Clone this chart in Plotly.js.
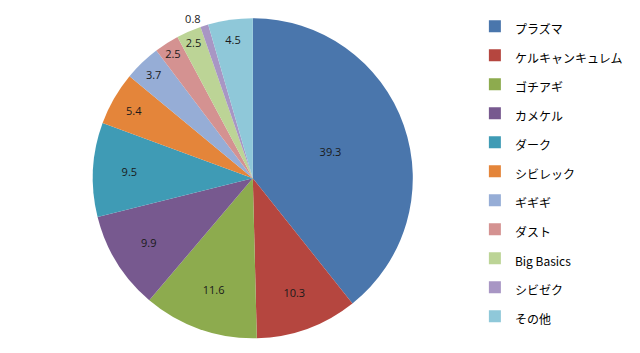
<!DOCTYPE html>
<html><head><meta charset="utf-8">
<script src="https://cdn.plot.ly/plotly-3.0.1.min.js"></script>
<style>html,body{margin:0;padding:0;background:#fff}#chart{width:640px;height:353px}</style>
</head><body><div id="chart"></div>
<script>
const categories = ["プラズマ","ケルキャンキュレム","ゴチアギ","カメケル","ダーク","シビレック","ギギギ","ダスト","Big Basics","シビゼク","その他"];
const values = [39.3, 10.3, 11.6, 9.9, 9.5, 5.4, 3.7, 2.5, 2.5, 0.8, 4.5];
const valueLabels = ["39.3","10.3","11.6","9.9","9.5","5.4","3.7","2.5","2.5","0.8","4.5"];
const colors = ["#4A76AC","#B5463F","#8DAB4E","#77598F","#3F9BB5","#E4853A","#96ADD6","#D49291","#BCD496","#A896C4","#8FC8D9"];
const positions = values.map(v => v < 1 ? "outside" : "inside");

const trace = {
  type: "pie",
  labels: categories.map(c => '<span style="font-size:12px">' + c + '</span>'),
  values: values,
  text: valueLabels,
  textinfo: "text",
  textposition: positions,
  insidetextorientation: "horizontal",
  textfont: {family: "Open Sans, Noto Sans CJK JP, sans-serif", size: 11, color: "#1a1a1a"},
  sort: false,
  direction: "clockwise",
  rotation: 0,
  marker: {colors: colors, line: {width: 0}},
  domain: {x: [0.145, 0.645], y: [0.04, 0.95]},
  hoverinfo: "label+value"
};

const layout = {
  width: 640, height: 353,
  margin: {l: 0, r: 0, t: 0, b: 0},
  paper_bgcolor: "#ffffff",
  showlegend: true,
  legend: {
    x: 0.742, y: 0.515, xanchor: "left", yanchor: "middle",
    font: {family: "Noto Sans CJK JP, Open Sans, sans-serif", size: 20, color: "#000"},
    itemwidth: 30
  }
};
Plotly.newPlot("chart", [trace], layout, {displayModeBar: false, staticPlot: true});
</script></body></html>
